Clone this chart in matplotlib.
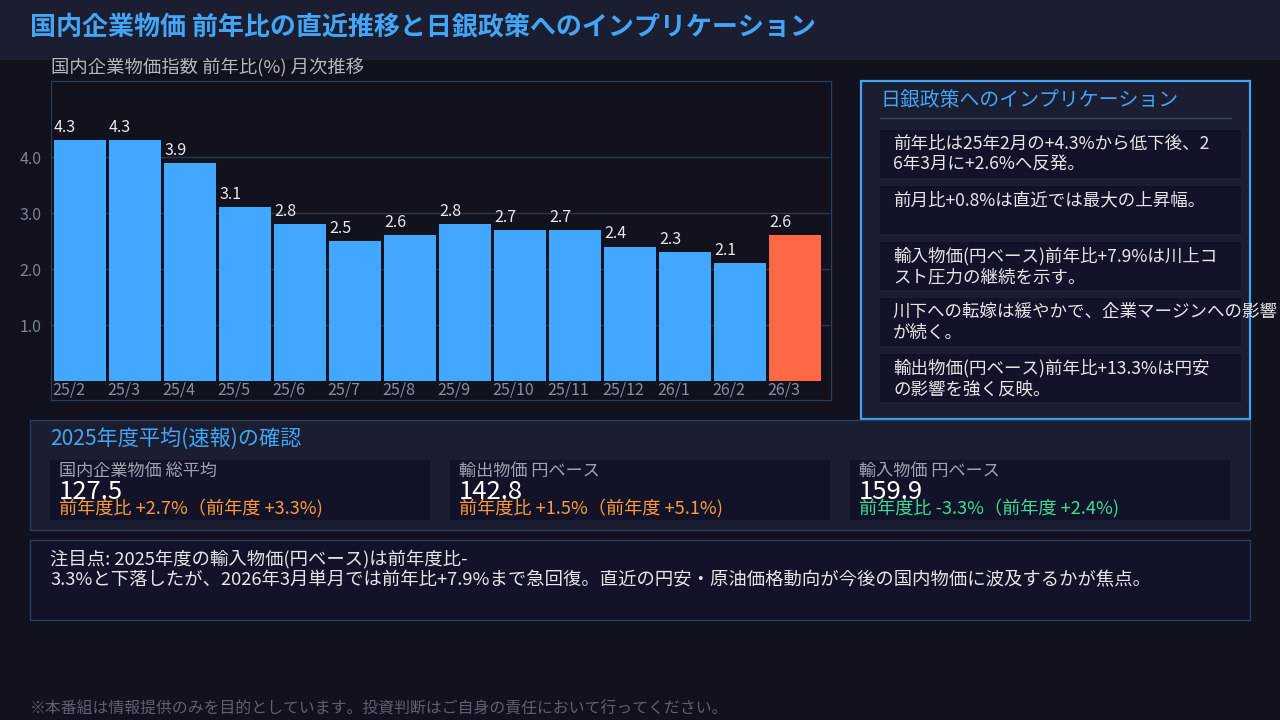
import matplotlib
matplotlib.use("Agg")
import matplotlib.pyplot as plt
from matplotlib.patches import Rectangle
from matplotlib.lines import Line2D

plt.rcParams['font.family'] = ['Noto Sans CJK JP', 'DejaVu Sans']

# ---- data ----
months = ['25/2', '25/3', '25/4', '25/5', '25/6', '25/7', '25/8',
          '25/9', '25/10', '25/11', '25/12', '26/1', '26/2', '26/3']
yoy = [4.3, 4.3, 3.9, 3.1, 2.8, 2.5, 2.6, 2.8, 2.7, 2.7, 2.4, 2.3, 2.1, 2.6]
yticks = [1.0, 2.0, 3.0, 4.0]

implications = [
    '前年比は25年2月の+4.3%から低下後、2\n6年3月に+2.6%へ反発。',
    '前月比+0.8%は直近では最大の上昇幅。',
    '輸入物価(円ベース)前年比+7.9%は川上コ\nスト圧力の継続を示す。',
    '川下への転嫁は緩やかで、企業マージンへの影響\nが続く。',
    '輸出物価(円ベース)前年比+13.3%は円安\nの影響を強く反映。',
]

card_labels = ['国内企業物価 総平均', '輸出物価 円ベース', '輸入物価 円ベース']
card_values = ['127.5', '142.8', '159.9']
card_changes = ['前年度比 +2.7%（前年度 +3.3%)',
                '前年度比 +1.5%（前年度 +5.1%)',
                '前年度比 -3.3%（前年度 +2.4%)']
card_colors = ['#ff9a3c', '#ff9a3c', '#3ddc97']

note = ('注目点: 2025年度の輸入物価(円ベース)は前年度比-\n'
        '3.3%と下落したが、2026年3月単月では前年比+7.9%まで急回復。'
        '直近の円安・原油価格動向が今後の国内物価に波及するかが焦点。')

# ---- colours ----
BG = '#12121f'
PANEL = '#1b1d30'
CARD = '#121329'
BLUE = '#42a5f5'
BAR = '#42a8ff'
HIGHLIGHT = '#ff6845'
EDGE = '#2c3e5a'

W, H = 1280, 720
fig = plt.figure(figsize=(12.8, 7.2), dpi=100, facecolor=BG)


def fx(x):
    return x / W


def fy(y):
    return 1 - y / H


def box(x0, y0, x1, y1, fc, ec='none', lw=1.0):
    fig.add_artist(Rectangle((fx(x0), fy(y1)), (x1 - x0) / W, (y1 - y0) / H,
                             transform=fig.transFigure, facecolor=fc,
                             edgecolor=ec, linewidth=lw, zorder=0))


def label(x, y, s, **kw):
    kw.setdefault('va', 'center')
    kw.setdefault('ha', 'left')
    fig.text(fx(x), fy(y), s, **kw)


# title bar
box(0, 0, W, 60, PANEL)
label(30, 28, '国内企業物価 前年比の直近推移と日銀政策へのインプリケーション',
      color=BLUE, fontsize=18.75, fontweight='bold')

# ---- bar chart ----
label(51, 68, '国内企業物価指数 前年比(%) 月次推移', color='#b4b8c2', fontsize=13.2)
ax = fig.add_axes([fx(51), fy(400), 780 / W, 319 / H])
ax.set_facecolor(BG)
x = list(range(len(months)))
w = 0.945
colors = [BAR] * (len(months) - 1) + [HIGHLIGHT]
ax.bar(x, yoy, width=w, color=colors, zorder=2)
ax.set_xlim(-0.527, 13.65)
ax.set_ylim(-0.34, 5.36)
ax.set_yticks(yticks)
ax.set_yticklabels([f'{t:.1f}' for t in yticks])
ax.tick_params(axis='y', length=0, pad=7, labelcolor='#7a8599', labelsize=11.5)
ax.set_xticks([])
ax.grid(axis='y', color='#2a3648', linewidth=1, zorder=1)
for s in ax.spines.values():
    s.set_color(EDGE)
for i, v in enumerate(yoy):
    ax.annotate(f'{v}', (i - w / 2, v), xytext=(0, 3), textcoords='offset points',
                ha='left', va='bottom', color='#e8e8ee', fontsize=11.5, zorder=3)
    ax.text(i - w / 2 - 0.03, -0.17, months[i], ha='left', va='center',
            color='#8a8f9c', fontsize=11.5)

# ---- implications panel ----
box(861, 81, 1250, 419, PANEL, ec=BLUE, lw=1.6)
label(881, 101, '日銀政策へのインプリケーション', color=BLUE, fontsize=14.3)
fig.add_artist(Line2D([fx(880), fx(1231)], [fy(118), fy(118)],
                      transform=fig.transFigure, color='#3a4660', lw=1))
for k, s in enumerate(implications):
    top = 130 + 56 * k
    box(880, top, 1241, top + 48, CARD)
    label(893, top + 5, s, va='top', color='#e6e6ea', fontsize=12.6, linespacing=1.2)

# ---- fiscal year average ----
box(30, 420, 1250, 530, PANEL, ec=EDGE)
label(50, 440, '2025年度平均(速報)の確認', color=BLUE, fontsize=15.2)
for k in range(3):
    x0 = 50 + 400 * k
    box(x0, 460, x0 + 380, 520, CARD)
    label(x0 + 9, 471, card_labels[k], color='#a0a4ae', fontsize=12.3)
    label(x0 + 9, 492, card_values[k], color='white', fontsize=18.5)
    label(x0 + 9, 509, card_changes[k], color=card_colors[k], fontsize=13.1)

# ---- note ----
box(30, 540, 1250, 620, CARD, ec=EDGE)
label(50, 550, note, va='top', color='#e6e6ea', fontsize=13.2, linespacing=1.15)

# disclaimer
label(30, 709, '※本番組は情報提供のみを目的としています。投資判断はご自身の責任において行ってください。',
      color='#5c6070', fontsize=11.4)

fig.savefig('out.png', dpi=100, facecolor=BG)
